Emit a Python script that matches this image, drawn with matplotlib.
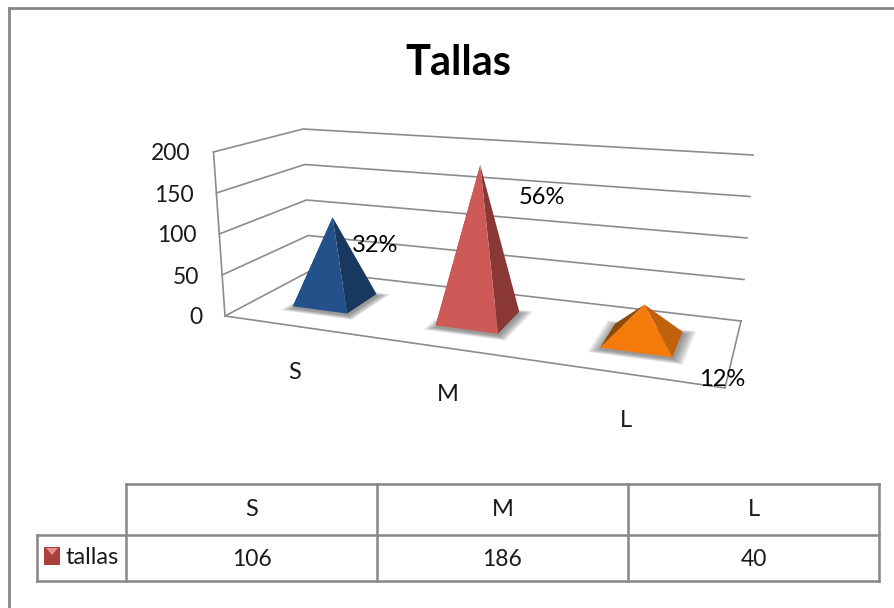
import matplotlib
matplotlib.use('Agg')
import matplotlib.pyplot as plt
import numpy as np
from matplotlib.patches import Polygon

plt.rcParams['font.family'] = ['Lato', 'DejaVu Sans']

categories = ['S', 'M', 'L']
values = [106, 186, 40]
percents = ['32%', '56%', '12%']
y_ticks = [0, 50, 100, 150, 200]
series_name = 'tallas'
y_max = 200

front_colors = ['#23528A', '#CD5A57', '#F47A0A']
side_colors = ['#18385F', '#8A3836', '#C2610C']
left_colors = ['#18385F', '#8A3836', '#8F4A08']
GRID = '#8C8C8C'
TEXT = '#1A1A1A'

fig = plt.figure(figsize=(8.94, 6.08), dpi=100)
ax = fig.add_axes([0, 0, 1, 1])
ax.set_xlim(0, 894)
ax.set_ylim(608, 0)
ax.axis('off')


def homography(corners):
    # unit square (u, v) -> four corners: front-left, front-right, back-right, back-left
    src = [(0, 0), (1, 0), (1, 1), (0, 1)]
    a, b = [], []
    for (u, v), (x, y) in zip(src, corners):
        a.append([u, v, 1, 0, 0, 0, -u * x, -v * x])
        a.append([0, 0, 0, u, v, 1, -u * y, -v * y])
        b += [x, y]
    return np.append(np.linalg.solve(np.array(a, float), np.array(b, float)), 1).reshape(3, 3)


floor_h = homography([(225, 316), (725, 388), (741, 321), (310, 271)])
top_h = homography([(213.5, 152), (745, 190), (753, 155), (303, 129)])


def project(u, v, val):
    p = np.array([u, v, 1.0])
    f = floor_h @ p
    t = top_h @ p
    f = f[:2] / f[2]
    t = t[:2] / t[2]
    return f + (t - f) * val / y_max


# outer chart frame
ax.plot([9, 9], [608, 8], color='#868686', lw=2)
ax.plot([9, 894], [8, 8], color='#868686', lw=2)

# walls and floor
for t in y_ticks:
    pts = np.array([project(0, 0, t), project(0, 1, t), project(1, 1, t)])
    ax.plot(pts[:, 0], pts[:, 1], color=GRID, lw=1.2)
    fl = project(0, 0, t)
    ax.text(fl[0] - 23, fl[1] + 2, str(t), ha='right', va='center', fontsize=16.5, color=TEXT)
left = np.array([project(0, 0, 0), project(0, 0, y_max)])
ax.plot(left[:, 0], left[:, 1], color=GRID, lw=1.2)
edge = np.array([project(0, 0, 0), project(1, 0, 0), project(1, 1, 0)])
ax.plot(edge[:, 0], edge[:, 1], color=GRID, lw=1.2)

# pyramids
half_u = 0.066
half_v = 0.2
for i, val in enumerate(values):
    uc = (i + 0.5) / len(values)
    vc = 0.5
    fl = project(uc - half_u, vc - half_v, 0)
    fr = project(uc + half_u, vc - half_v, 0)
    br = project(uc + half_u, vc + half_v, 0)
    bl = project(uc - half_u, vc + half_v, 0)
    apex = project(uc, vc, val)
    base = np.array([fl, fr, br, bl])
    centre = base.mean(axis=0)
    # soft shadow on the floor, stacked so it fades outward
    for grow in np.linspace(1.32, 1.02, 10):
        ax.add_patch(Polygon(centre + (base - centre) * grow + [1, 2], closed=True,
                             fc='#444444', ec='none', alpha=0.07, zorder=3))
    ax.add_patch(Polygon([fl, bl, apex], closed=True, fc=left_colors[i], ec='none', zorder=4))
    ax.add_patch(Polygon([fr, br, apex], closed=True, fc=side_colors[i], ec='none', zorder=5))
    ax.add_patch(Polygon([fl, fr, apex], closed=True, fc=front_colors[i], ec='none', zorder=6))
    lab = project(uc, 0, 0)
    ax.text(lab[0] + 1, lab[1] + 47, categories[i], ha='center', va='center', fontsize=17, color=TEXT)

# percentage labels
label_pos = [(375, 246), (542, 197), (722, 380)]
for (x, y), s in zip(label_pos, percents):
    ax.text(x, y, s, ha='center', va='center', fontsize=17, color='black', zorder=8)

ax.text(458, 63, 'Tallas', ha='center', va='center', fontsize=30, fontweight='bold', color='black')

# data table below the plot
col_x = [126, 377, 628, 879]
row_y = [484, 535, 581]
tbl = dict(color='#868686', lw=1.8, solid_capstyle='projecting')
ax.plot([col_x[0], col_x[-1]], [row_y[0], row_y[0]], **tbl)
ax.plot([37, col_x[-1]], [row_y[1], row_y[1]], **tbl)
ax.plot([37, col_x[-1]], [row_y[2], row_y[2]], **tbl)
ax.plot([37, 37], [row_y[1], row_y[2]], **tbl)
for x in col_x:
    ax.plot([x, x], [row_y[0], row_y[2]], **tbl)
for i, (c, val) in enumerate(zip(categories, values)):
    xm = (col_x[i] + col_x[i + 1]) / 2
    ax.text(xm, (row_y[0] + row_y[1]) / 2 + 0.5, c, ha='center', va='center', fontsize=17, color=TEXT)
    ax.text(xm, (row_y[1] + row_y[2]) / 2 + 1, str(val), ha='center', va='center', fontsize=16.5, color=TEXT)

# legend key and series name
ax.add_patch(Polygon([(44, 547), (60, 547), (60, 565), (44, 565)], closed=True, fc='#A8403D', ec='none'))
ax.add_patch(Polygon([(46, 548), (58, 548), (52, 555)], closed=True, fc='#E8908C', ec='none'))
ax.text(65, 557, series_name, ha='left', va='center', fontsize=17, color=TEXT)

fig.savefig('out.png', dpi=100)
